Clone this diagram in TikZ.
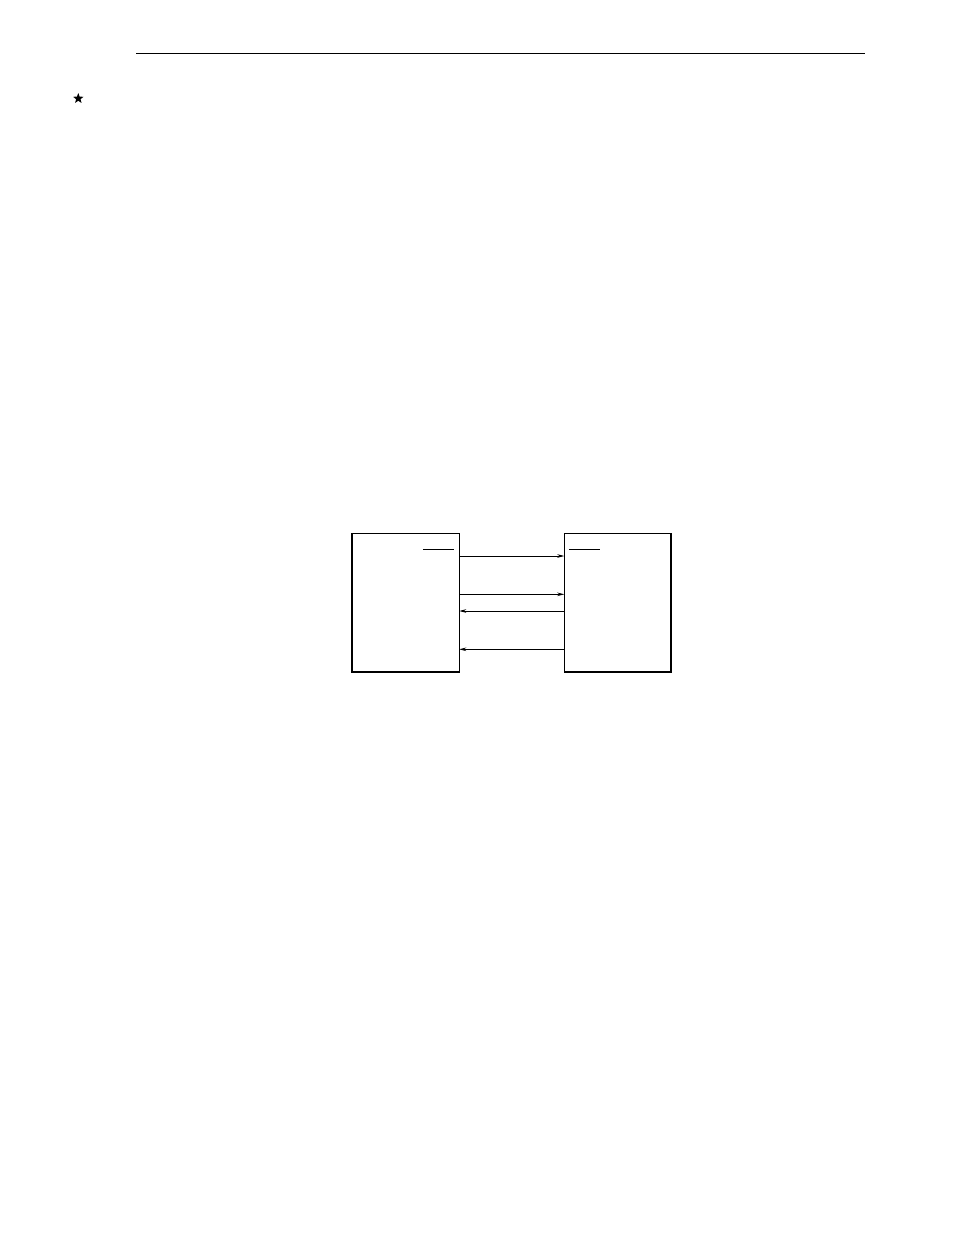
\documentclass[tikz,border=0pt]{standalone}
\usetikzlibrary{arrows.meta,shapes.geometric}
\begin{document}
\begin{tikzpicture}[x=1pt,y=-1pt,
  blk/.style={draw,line width=0.9pt,minimum width=107.5pt,minimum height=139pt,inner sep=0pt,outer sep=0pt},
  thickedge/.style={line width=2pt},
  arr/.style={line width=0.9pt,-{Stealth[length=7pt,width=3.6pt]}},
  bar/.style={line width=0.9pt}]
\useasboundingbox (0,0) rectangle (954,1235);
\draw[line width=0.9pt] (136,53.3) -- (865,53.3);
\node[star,star points=5,star point ratio=2.4,fill=black,inner sep=0pt,minimum size=11pt] (st) at (78.3,98.5) {};
\node[blk] (L) at (405.5,602.8) {};
\node[blk] (R) at (618,602.8) {};
\draw[thickedge] ([xshift=0.6pt]L.north west) -- ([xshift=0.6pt,yshift=0.6pt]L.south west) -- ([yshift=0.6pt]L.south east);
\draw[thickedge] ([xshift=-0.6pt]R.north east) -- ([xshift=-0.6pt,yshift=0.6pt]R.south east) -- ([yshift=0.6pt]R.south west);
\draw[bar] ([xshift=-36.5pt,yshift=-16pt]L.north east) -- ([xshift=-5pt,yshift=-16pt]L.north east);
\draw[bar] ([xshift=4.5pt,yshift=-16pt]R.north west) -- ([xshift=35.5pt,yshift=-16pt]R.north west);
\draw[arr] ([yshift=-22.7pt]L.north east) -- ([yshift=-22.7pt]R.north west);
\draw[arr] ([yshift=-61pt]L.north east) -- ([yshift=-61pt]R.north west);
\draw[arr] ([yshift=-77.7pt]R.north west) -- ([yshift=-77.7pt]L.north east);
\draw[arr] ([yshift=-116pt]R.north west) -- ([yshift=-116pt]L.north east);
\end{tikzpicture}
\end{document}
